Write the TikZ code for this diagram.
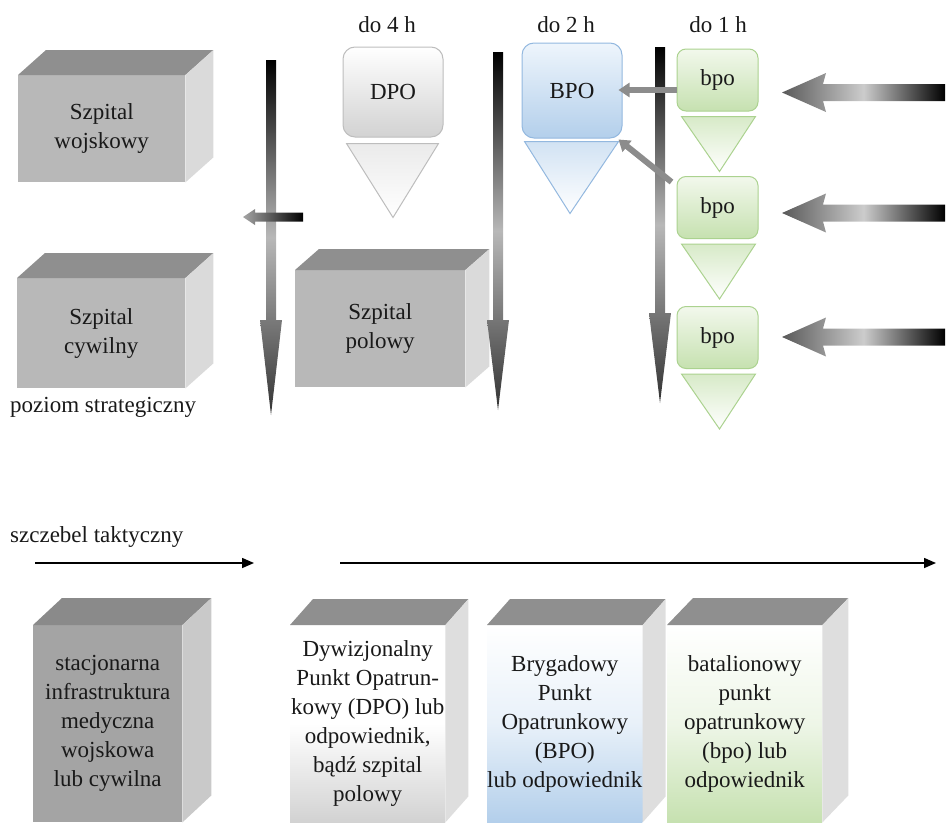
\documentclass[tikz,border=0pt]{standalone}
\usepackage{fontspec}
\setmainfont{Liberation Serif}
\usetikzlibrary{arrows.meta}
\definecolor{gfront}{HTML}{B8B8B8}
\definecolor{gtop}{HTML}{8F8F8F}
\definecolor{gside}{HTML}{DADADA}
\definecolor{dfront}{HTML}{A4A4A4}
\definecolor{dtop}{HTML}{8A8A8A}
\definecolor{dside}{HTML}{C9C9C9}
\definecolor{lside}{HTML}{DEDEDE}
\definecolor{bluetop}{HTML}{EEF5FC}
\definecolor{bluebot}{HTML}{B3CFEB}
\definecolor{bluebd}{HTML}{93B8DF}
\definecolor{greentop}{HTML}{F2F8EC}
\definecolor{greenbot}{HTML}{C6E1B0}
\definecolor{greenbd}{HTML}{ABD28F}
\definecolor{graybot}{HTML}{D2D2D2}
\definecolor{graybd}{HTML}{BDBDBD}
\newcommand\cubefaces[5]{%
  \fill[#4] (#1.north west) -- ([shift={(#2,-#3)}]#1.north west) -- ([shift={(#2,-#3)}]#1.north east) -- (#1.north east) -- cycle;
  \fill[#5] (#1.north east) -- ([shift={(#2,-#3)}]#1.north east) -- ([shift={(#2,-#3)}]#1.south east) -- (#1.south east) -- cycle;}
\newcommand\varrow[4]{%
  \shade[top color=black, bottom color=black!80, middle color=black!28]
   (#1-5,#2) -- (#1+5,#2) -- (#1+5,#3) -- (#1+11,#3) -- (#1,#4) -- (#1-11,#3) -- (#1-5,#3) -- cycle;}
\newcommand\harrow[1]{%
  \shade[left color=black!65, right color=black, middle color=black!20]
   (945,#1-8.5) -- (823,#1-8.5) -- (826,#1-19.5) -- (782,#1) -- (826,#1+19.5) -- (823,#1+8.5) -- (945,#1+8.5) -- cycle;}
\tikzset{
  txt/.style={font=\fontsize{23}{29}\selectfont, text=black!90, align=center, inner sep=0pt},
  frontbox/.style={txt, anchor=north west},
  rbox/.style={txt, line width=1pt, rounded corners=12pt},
  tri/.style={line width=1pt},
  conn/.style={line width=6pt, black!45, -{Triangle[length=11pt,width=14pt]}},
  thinarr/.style={line width=1.5pt, black, -{Triangle[length=12pt,width=10pt]}}
}
\begin{document}
\begin{tikzpicture}[x=1pt,y=-1pt]
\useasboundingbox (0,0) rectangle (947,827);
% --- top level: hospitals
\node[frontbox, fill=gfront, minimum width=167pt, minimum height=107pt] (sw) at (18,75) {Szpital\\wojskowy};
\cubefaces{sw}{28}{25}{gtop}{gside}
\node[frontbox, fill=gfront, minimum width=168pt, minimum height=110pt] (sc) at (17,278) {Szpital\\cywilny};
\cubefaces{sc}{28}{25}{gtop}{gside}
\node[frontbox, fill=gfront, minimum width=170pt, minimum height=117pt] (sp) at (295,270) {Szpital\\polowy};
\cubefaces{sp}{24}{21}{gtop}{gside}
\node[txt, anchor=west] (pz) at (10,407) {poziom strategiczny};
% --- vertical arrows
\varrow{271}{60}{320}{415}
\varrow{498}{52}{320}{410}
\varrow{660}{47}{313}{403}
% small crossing arrow
\shade[left color=black!35, right color=black] (303,212.5) -- (255,212.5) -- (255,209) -- (243,217) -- (255,225) -- (255,221.5) -- (303,221.5) -- cycle;
% --- time labels
\node[txt] (t4) at (387,25) {do 4 h};
\node[txt] (t2) at (566,25) {do 2 h};
\node[txt] (t1) at (718,25) {do 1 h};
% --- DPO
\node[rbox, draw=graybd, top color=white, bottom color=graybot, minimum width=100pt, minimum height=90pt] (DPO) at (393,92) {DPO};
\shadedraw[tri, draw=graybd, top color=black!8, bottom color=white] ([xshift=4pt,yshift=-6pt]DPO.south west) -- ([xshift=-5pt,yshift=-6pt]DPO.south east) -- ([yshift=-80pt]DPO.south) -- cycle;
% --- BPO
\node[rbox, draw=bluebd, top color=bluetop, bottom color=bluebot, minimum width=100pt, minimum height=95pt] (BPO) at (572,90.5) {BPO};
\shadedraw[tri, draw=bluebd, top color=bluebot!60, bottom color=white] ([xshift=3pt,yshift=-3pt]BPO.south west) -- ([xshift=-4pt,yshift=-3pt]BPO.south east) -- ([xshift=-2pt,yshift=-75pt]BPO.south) -- cycle;
% --- bpo
\foreach \n/\y in {1/80, 2/207.5, 3/337.5}{
  \node[rbox, rounded corners=9pt, draw=greenbd, top color=greentop, bottom color=greenbot, minimum width=81pt, minimum height=62pt] (bpo\n) at (717.5,\y) {bpo};
  \shadedraw[tri, draw=greenbd, top color=greenbot!70, bottom color=white] ([xshift=5pt,yshift=-5pt]bpo\n.south west) -- ([xshift=-3pt,yshift=-5pt]bpo\n.south east) -- ([xshift=2pt,yshift=-60pt]bpo\n.south) -- cycle;
}
% connectors bpo -> BPO
\draw[conn] ([yshift=-10pt]bpo1.west) -- ([yshift=-10pt,xshift=-4pt]bpo1.west -| BPO.east);
\draw[conn] ([xshift=-5pt,yshift=-6pt]bpo2.north west) -- ([xshift=-4pt,yshift=-1pt]BPO.south east);
% big incoming arrows
\harrow{92.5}
\harrow{213}
\harrow{337}
% --- tactical level
\node[txt, anchor=west] (sz) at (10,537) {szczebel taktyczny};
\coordinate (a1s) at (35,563);
\coordinate (a1e) at (254,563);
\coordinate (a2s) at (340,563);
\coordinate (a2e) at (936,563);
\draw[thinarr] (a1s) -- (a1e);
\draw[thinarr] (a2s) -- (a2e);
\node[frontbox, fill=dfront, minimum width=149pt, minimum height=197pt] (bA) at (33,625) {stacjonarna\\infrastruktura\\medyczna\\wojskowa\\lub cywilna};
\cubefaces{bA}{29}{27}{dtop}{dside}
\node[frontbox, top color=white, bottom color=graybot, middle color=white, minimum width=155pt, minimum height=197pt] (bB) at (290,625) {Dywizjonalny\\Punkt Opatrun-\\kowy (DPO) lub\\odpowiednik,\\bądź szpital\\polowy};
\cubefaces{bB}{23}{26}{gtop}{lside}
\node[frontbox, top color=white, bottom color=bluebot, middle color=bluebot!30, minimum width=148pt, minimum height=197pt] (bC) at (487,625) {Brygadowy\\Punkt\\Opatrunkowy\\(BPO)\\lub odpowiednik};
\cubefaces{bC}{23}{26}{gtop}{lside}
\node[frontbox, top color=white, bottom color=greenbot, middle color=greenbot!30, minimum width=155pt, minimum height=197pt] (bD) at (667,625) {batalionowy\\punkt\\opatrunkowy\\(bpo) lub\\odpowiednik};
\cubefaces{bD}{26}{27}{gtop}{lside}
\end{tikzpicture}
\end{document}
